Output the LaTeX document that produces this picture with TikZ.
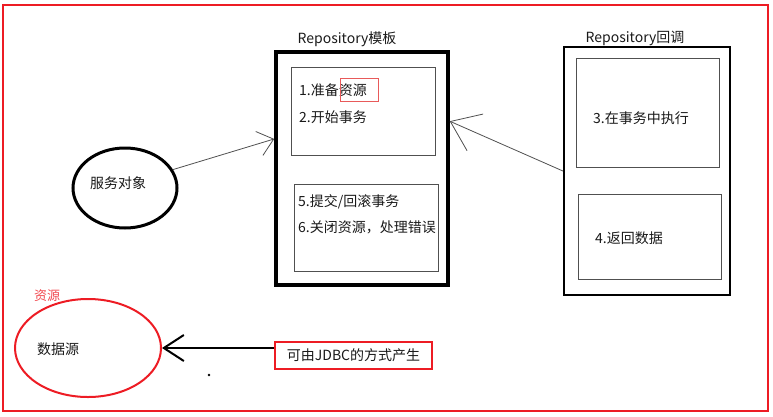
\documentclass[tikz,border=0pt]{standalone}
\usepackage{fontspec}
\setmainfont{Noto Sans CJK SC}
\usepackage{tikz}
\usetikzlibrary{arrows.meta,calc,shapes.geometric}
\usepackage{xcolor}
\definecolor{pred}{RGB}{237,28,36}
\definecolor{hlred}{RGB}{232,90,90}
\definecolor{inkgray}{RGB}{80,80,80}
\tikzset{
  txt/.style={font=\fontsize{14}{17}\selectfont, text=black!90, inner sep=0pt},
  outerbox/.style={draw=black, rectangle, inner sep=0pt},
  innerbox/.style={draw=inkgray, line width=0.8pt, rectangle, inner sep=0pt},
  oval/.style={ellipse, inner sep=0pt},
  thinarr/.style={draw=inkgray, line width=0.8pt},
}

\begin{document}
\begin{tikzpicture}[x=1pt,y=-1pt]
  \useasboundingbox (0,0) rectangle (773,416);
  % outer red frame
  \draw[pred, line width=2.5pt] (3,5) rectangle (768,411);
  % template
  \node[outerbox, line width=3.5pt, minimum width=172pt, minimum height=233pt] (tmpl) at (362,168.5) {};
  \node[txt] (tmpltitle) at (347,39) {Repository模板};
  \node[innerbox, minimum width=144pt, minimum height=88pt] (tA) at (363,111) {};
  \node[innerbox, minimum width=144pt, minimum height=87pt] (tB) at (366,227.5) {};
  \node[txt, anchor=west] (step1) at (299,90) {1.准备资源};
  \node[txt, anchor=west] (step2) at (299,117) {2.开始事务};
  \node[draw=hlred, line width=0.7pt, minimum width=38pt, minimum height=23pt, inner sep=0pt] (hl) at (359,89.5) {};
  \node[txt, anchor=west] (step5) at (298,202) {5.提交/回滚事务};
  \node[txt, anchor=west] (step6) at (298,227) {6.关闭资源，处理错误};
  % callback
  \node[outerbox, line width=2.2pt, minimum width=166pt, minimum height=248pt] (cb) at (647,171) {};
  \node[txt] (cbtitle) at (635,38) {Repository回调};
  \node[innerbox, minimum width=143pt, minimum height=109pt] (cA) at (647.5,112.5) {};
  \node[innerbox, minimum width=143pt, minimum height=85pt] (cB) at (649.5,236.5) {};
  \node[txt, anchor=west] (step3) at (593,118) {3.在事务中执行};
  \node[txt, anchor=west] (step4) at (595,238) {4.返回数据};
  % service object
  \node[oval, draw=black, line width=3pt, minimum width=104pt, minimum height=80pt] (svc) at (125,188) {};
  \node[txt] (svctext) at (118,183) {服务对象};
  % data source
  \node[oval, draw=pred, line width=2pt, minimum width=146pt, minimum height=98pt] (ds) at (88,348) {};
  \node[txt] (dstext) at (58,349) {数据源};
  \node[txt, text=pred!80, font=\fontsize{13}{15}\selectfont] (res) at (47,296) {资源};
  \node[draw=pred, line width=2pt, minimum width=157pt, minimum height=27pt, inner sep=0pt, txt] (jdbc) at (353.5,355.5) {可由JDBC的方式产生};
  \fill (209,375) circle (1.4pt);
  % connectors
  \draw[thinarr, -{Straight Barb[length=15pt, width=25pt]}] (svc.21) -- ($(tmpl.north west)!0.375!(tmpl.south west)$);
  \draw[thinarr, -{Straight Barb[length=27pt, width=40pt]}] (cb.west) -- ($(tmpl.north east)!0.3!(tmpl.south east)$);
  \draw[black, line width=2pt, -{Straight Barb[length=20pt, width=26pt]}] (jdbc.west |- ds.east) -- (ds.east);
\end{tikzpicture}
\end{document}
